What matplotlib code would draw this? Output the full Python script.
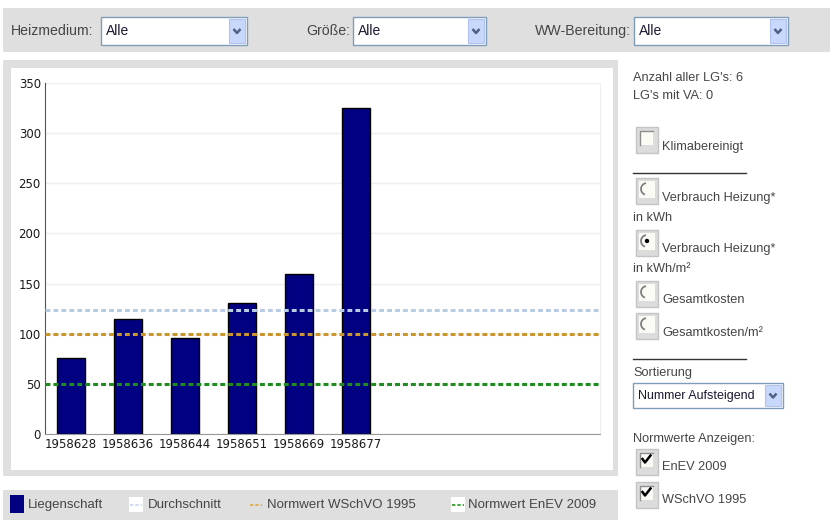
import matplotlib.pyplot as plt
from matplotlib.patches import Rectangle, Circle, Arc
import numpy as np

# Verbrauch Heizung in kWh/m² je Liegenschaft
objekte = ["1958628", "1958636", "1958644", "1958651", "1958669", "1958677"]
verbrauch = [76, 115, 96, 131, 160, 325]
durchschnitt = 124
normwert_wschvo = 100
normwert_enev = 50
y_ticks = [0, 50, 100, 150, 200, 250, 300, 350]

W, H = 832, 520
UI_FONT = "Liberation Sans"
TXT = "#454545"

fig = plt.figure(figsize=(W / 100, H / 100), dpi=100)

# full-figure overlay in pixel units (y downward) for the form controls
ui = fig.add_axes([0, 0, 1, 1], zorder=0)
ui.set_xlim(0, W)
ui.set_ylim(H, 0)
ui.axis("off")


def box(x0, y0, x1, y1, fc, ec="none", lw=1.0):
    ui.add_patch(Rectangle((x0, y0), x1 - x0, y1 - y0, facecolor=fc,
                           edgecolor=ec, lw=lw))


def label(x, y, s, size=9.2, color=TXT, **kw):
    ui.text(x, y, s, fontsize=size, color=color, family=UI_FONT,
            va="center", ha="left", **kw)


def dropdown(x0, y0, x1, y1, value, size=10):
    box(x0, y0, x1, y1, "white", "#7f9db9", 1.0)
    box(x1 - 18, y0 + 2, x1 - 2, y1 - 2, "#c8d8fc", "#b0c4ef", 0.8)
    cx, cy = x1 - 10, (y0 + y1) / 2
    ui.plot([cx - 3.5, cx, cx + 3.5], [cy - 2, cy + 2, cy - 2],
            color="#4d6185", lw=1.8, solid_capstyle="butt")
    label(x0 + 5, cy, value, size=size, color="#1a1a33")


def frame(x0, y0):
    box(x0, y0, x0 + 22, y0 + 26, "#dcdcdc", "#c4c4c4", 1.0)
    box(x0 + 4, y0 + 4, x0 + 17, y0 + 18, "#fbfbf6", "none")
    ui.plot([x0 + 4, x0 + 4, x0 + 17], [y0 + 18, y0 + 4, y0 + 4],
            color="#8c8c8c", lw=1.0)


def checkbox(x0, y0, checked):
    frame(x0, y0)
    if checked:
        ui.plot([x0 + 6.5, x0 + 9, x0 + 14.5], [y0 + 10, y0 + 13.5, y0 + 6.5],
                color="black", lw=1.8)


def radio(x0, y0, checked):
    box(x0, y0, x0 + 22, y0 + 26, "#dcdcdc", "#c4c4c4", 1.0)
    box(x0 + 3, y0 + 3, x0 + 19, y0 + 20, "#fbfbf6", "none")
    ui.add_patch(Arc((x0 + 11, y0 + 11), 12, 12, theta1=110, theta2=260,
                     color="#808080", lw=1.3))
    if checked:
        ui.add_patch(Circle((x0 + 11, y0 + 11), 2.2, facecolor="black"))


# filter bar
box(3, 8, 830, 52, "#dfdfdf")
label(11, 31, "Heizmedium:", size=10.2)
dropdown(101, 17, 247, 45, "Alle")
label(306, 31, "Größe:", size=10.2)
dropdown(353, 17, 486, 45, "Alle")
label(535, 31, "WW-Bereitung:", size=10.2)
dropdown(634, 17, 788, 45, "Alle")

# chart frame
box(3, 60, 618, 476, "#dfdfdf")
box(11, 68, 613, 470, "white")

# legend bar
box(3, 490, 618, 520, "#dfdfdf")
box(10, 495, 24, 513, "#000080")
label(28, 505, "Liegenschaft", size=9.5)
for mx, col in ((129, "#c9d7ee"), (249, "#d9a845"), (451, "#229922")):
    if col != "#d9a845":
        box(mx, 497, mx + 14, 512, "white")
    ui.plot([mx + 1, mx + 13], [505, 505], color=col, lw=1.2,
            dashes=(2, 1.2))
label(148, 505, "Durchschnitt", size=9.5)
label(267, 505, "Normwert WSchVO 1995", size=9.5)
label(468, 505, "Normwert EnEV 2009", size=9.5)

# side panel
label(633, 78, "Anzahl aller LG's: 6")
label(633, 96, "LG's mit VA: 0")
checkbox(636, 127, False)
label(662, 147, "Klimabereinigt")
ui.plot([633, 746], [173, 173], color="#333333", lw=1.0)
radio(636, 178, False)
label(662, 198, "Verbrauch Heizung*")
label(633, 218, "in kWh")
radio(636, 230, True)
label(662, 249, "Verbrauch Heizung*")
label(633, 269, "in kWh/m²")
radio(636, 281, False)
label(662, 300, "Gesamtkosten")
radio(636, 313, False)
label(662, 333, "Gesamtkosten/m²")
ui.plot([633, 746], [359, 359], color="#333333", lw=1.0)
label(633, 373, "Sortierung")
dropdown(633, 383, 783, 408, "Nummer Aufsteigend", size=9.0)
label(633, 439, "Normwerte Anzeigen:")
checkbox(636, 449, True)
label(662, 467, "EnEV 2009")
checkbox(636, 482, True)
label(662, 500, "WSchVO 1995")

# bar chart
x0_px, x1_px, ytop_px, ybot_px = 45, 600, 83, 434
ax = fig.add_axes([x0_px / W, (H - ybot_px) / H, (x1_px - x0_px) / W,
                   (ybot_px - ytop_px) / H], zorder=1)
x = np.arange(len(objekte))
ax.bar(x, verbrauch, width=0.5, color="#000080", edgecolor="black",
       linewidth=1.0, zorder=2)
for val, col in ((durchschnitt, "#b8cce4"), (normwert_wschvo, "#c9962e"),
                 (normwert_enev, "#1e8c1e")):
    ax.axhline(val, color=col, lw=2.2, dashes=(1.6, 1.0), zorder=3)

ax.set_xlim(-0.46, 9.28)
ax.set_ylim(0, 350)
ax.set_yticks(y_ticks)
ax.set_xticks(x)
ax.set_xticklabels(objekte)
ax.tick_params(axis="both", length=0, labelsize=8.5, colors="#1a1a1a")
ax.tick_params(axis="x", pad=3)
ax.tick_params(axis="y", pad=3)
ax.yaxis.grid(True, color="#efefef", lw=1.0, zorder=0)
ax.set_axisbelow(True)
ax.spines["left"].set_color("#555555")
ax.spines["bottom"].set_color("#999999")
ax.spines["right"].set_color("#eeeeee")
ax.spines["top"].set_visible(False)

fig.savefig("out.png", dpi=100)
